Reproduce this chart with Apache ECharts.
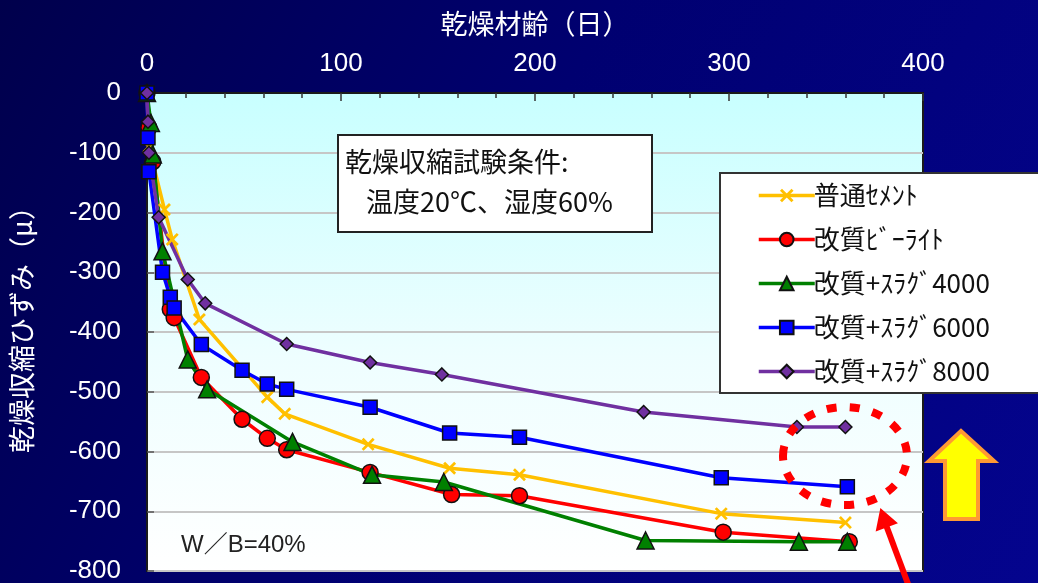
<!DOCTYPE html>
<html>
<head>
<meta charset="utf-8">
<script src="https://cdn.jsdelivr.net/npm/echarts@6/dist/echarts.min.js"></script>
<style>
  html, body { margin: 0; padding: 0; background: #00006a; }
  #chart { width: 1038px; height: 583px; }
</style>
</head>
<body>
<div id="chart"></div>
<script>
// Drying age (days) and drying shrinkage strain (μ) per mix
const seriesNames = ['普通ｾﾒﾝﾄ', '改質ﾋﾞｰﾗｲﾄ', '改質+ｽﾗｸﾞ4000', '改質+ｽﾗｸﾞ6000', '改質+ｽﾗｸﾞ8000'];

const cementDays = [0, 1, 9, 13, 27, 62, 71, 114, 156, 192, 296, 360];
const cementStrain = [0, -90, -195, -245, -379, -509, -537, -588, -628, -639, -704, -719];

const beliteDays = [0, 1, 3, 12, 14, 28, 49, 62, 72, 115, 157, 192, 297, 362];
const beliteStrain = [0, -58, -115, -362, -376, -476, -546, -578, -597, -635, -672, -674, -735, -751];

const slag4000Days = [0, 2, 3, 8, 21, 31, 75, 116, 153, 257, 336, 361];
const slag4000Strain = [0, -50, -103, -265, -446, -496, -584, -639, -651, -749, -751, -751];

const slag6000Days = [0, 0.5, 1, 8, 12, 14, 28, 49, 62, 72, 115, 156, 192, 296, 361];
const slag6000Strain = [0, -75, -132, -300, -342, -360, -421, -464, -487, -496, -526, -569, -576, -644, -659];

const slag8000Days = [0, 0.5, 1, 6, 21, 30, 72, 115, 152, 256, 335, 360];
const slag8000Strain = [0, -48, -100, -208, -312, -352, -420, -451, -471, -534, -559, -559];

const xTitle = '乾燥材齢（日）';
const yTitle = '乾燥収縮ひずみ（μ）';
const noteLines = ['乾燥収縮試験条件:', '温度20℃、湿度60%'];
const ratioText = 'W／B=40%';

const pairs = (xs, ys) => xs.map((x, i) => [x, ys[i]]);

const crossPath = 'path://M0,1.5L1.5,0L5,3.5L8.5,0L10,1.5L6.5,5L10,8.5L8.5,10L5,6.5L1.5,10L0,8.5L3.5,5Z';

const cjk = '"Noto Sans CJK JP", "Noto Sans", sans-serif';
const latin = '"Liberation Sans", Arial, "Noto Sans CJK JP", sans-serif';

function lineSeries(name, data, color, symbol, size, border) {
  return {
    name: name,
    type: 'line',
    data: data,
    symbol: symbol,
    symbolSize: size,
    showSymbol: true,
    lineStyle: { color: color, width: 3.5 },
    itemStyle: {
      color: color,
      borderColor: border ? '#111' : color,
      borderWidth: border ? 1.5 : 0
    },
    emphasis: { disabled: true },
    animation: false
  };
}

const chart = echarts.init(document.getElementById('chart'), null, { renderer: 'canvas' });

chart.setOption({
  backgroundColor: {
    type: 'linear', x: 0, y: 0, x2: 1, y2: 1,
    colorStops: [
      { offset: 0, color: '#00004c' },
      { offset: 0.45, color: '#000070' },
      { offset: 1, color: '#04048e' }
    ]
  },
  animation: false,
  grid: {
    left: 147, top: 93, right: 115, bottom: 12,
    outerBoundsMode: 'none',
    containLabel: false,
    show: true,
    borderColor: '#1a1a1a',
    borderWidth: 2,
    backgroundColor: {
      type: 'linear', x: 0, y: 0, x2: 0, y2: 1,
      colorStops: [
        { offset: 0, color: '#c8ffff' },
        { offset: 0.55, color: '#eefeff' },
        { offset: 1, color: '#ffffff' }
      ]
    }
  },
  xAxis: {
    type: 'value',
    position: 'top',
    min: 0, max: 400, interval: 100,
    name: xTitle,
    nameLocation: 'middle',
    nameGap: 56,
    nameTextStyle: { color: '#ffffff', fontSize: 27, fontFamily: cjk },
    axisLine: { show: true, lineStyle: { color: '#1a1a1a', width: 2 } },
    axisTick: { show: true, inside: true, length: 8, lineStyle: { color: '#333', width: 1.5 } },
    minorTick: { show: true, splitNumber: 5, length: 5, lineStyle: { color: '#333', width: 1.5 } },
    splitLine: { show: false },
    axisLabel: { color: '#ffffff', fontSize: 26, fontFamily: latin, margin: 16 }
  },
  yAxis: {
    type: 'value',
    min: -800, max: 0, interval: 100,
    name: yTitle,
    nameLocation: 'middle',
    nameGap: 112,
    nameRotate: 90,
    nameTextStyle: { color: '#ffffff', fontSize: 27, fontFamily: cjk, padding: [0, 0, 0, 18] },
    axisLine: { show: true, lineStyle: { color: '#1a1a1a', width: 2 } },
    axisTick: { show: true, inside: true, length: 7, lineStyle: { color: '#555', width: 1.5 } },
    splitLine: { show: true, lineStyle: { color: '#c6c6c6', width: 2 } },
    axisLabel: { color: '#ffffff', fontSize: 26, fontFamily: latin, margin: 26, padding: [4, 0, 0, 0] }
  },
  legend: {
    orient: 'vertical',
    left: 752,
    top: 177,
    itemWidth: 56,
    itemHeight: 17,
    itemGap: 17,
    z: 10,
    lineStyle: { width: 3.5 },
    textStyle: { color: '#111', fontSize: 26, fontFamily: cjk, lineHeight: 27, padding: [0, 0, 0, -6] },
    data: seriesNames
  },
  graphic: [
    // legend frame
    {
      type: 'rect', z: 1,
      shape: { x: 720, y: 173, width: 330, height: 220 },
      style: { fill: '#ffffff', stroke: '#333', lineWidth: 2 }
    },
    // test-condition note
    {
      type: 'rect', z: 5,
      shape: { x: 338, y: 135, width: 314, height: 97 },
      style: { fill: '#ffffff', stroke: '#222', lineWidth: 2 }
    },
    {
      type: 'text', z: 6, left: 345, top: 148,
      style: { text: noteLines[0], fill: '#111', fontSize: 27, fontFamily: cjk }
    },
    {
      type: 'text', z: 6, left: 366, top: 188,
      style: { text: noteLines[1], fill: '#111', fontSize: 27, fontFamily: cjk }
    },
    {
      type: 'text', z: 6, left: 181, top: 533,
      style: { text: ratioText, fill: '#222', fontSize: 24, fontFamily: latin }
    },
    // dotted highlight ring
    {
      type: 'ellipse', z: 20,
      shape: { cx: 845, cy: 456, rx: 62, ry: 49 },
      style: { fill: 'none', stroke: '#ff0000', lineWidth: 8, lineDash: [10, 13] }
    },
    // pointer arrow
    {
      type: 'line', z: 20,
      shape: { x1: 914, y1: 600, x2: 886, y2: 525 },
      style: { stroke: '#ff0000', lineWidth: 6 }
    },
    {
      type: 'polygon', z: 20,
      shape: { points: [[881, 510], [877, 530], [896, 523]] },
      style: { fill: '#ff0000', stroke: '#ff0000', lineWidth: 2 }
    },
    // upward arrow
    {
      type: 'polygon', z: 20,
      shape: { points: [[961, 431], [994, 461], [978, 461], [978, 519], [945, 519], [945, 461], [929, 461]] },
      style: { fill: '#ffff00', stroke: '#ff9933', lineWidth: 4, lineJoin: 'miter' }
    }
  ],
  series: [
    lineSeries(seriesNames[0], pairs(cementDays, cementStrain), '#ffc000', crossPath, 13, false),
    lineSeries(seriesNames[1], pairs(beliteDays, beliteStrain), '#ff0000', 'circle', 16, true),
    lineSeries(seriesNames[2], pairs(slag4000Days, slag4000Strain), '#008000', 'triangle', 17, true),
    lineSeries(seriesNames[3], pairs(slag6000Days, slag6000Strain), '#0000ff', 'rect', 14, true),
    lineSeries(seriesNames[4], pairs(slag8000Days, slag8000Strain), '#7030a0', 'diamond', 13, true)
  ]
});
</script>
</body>
</html>
